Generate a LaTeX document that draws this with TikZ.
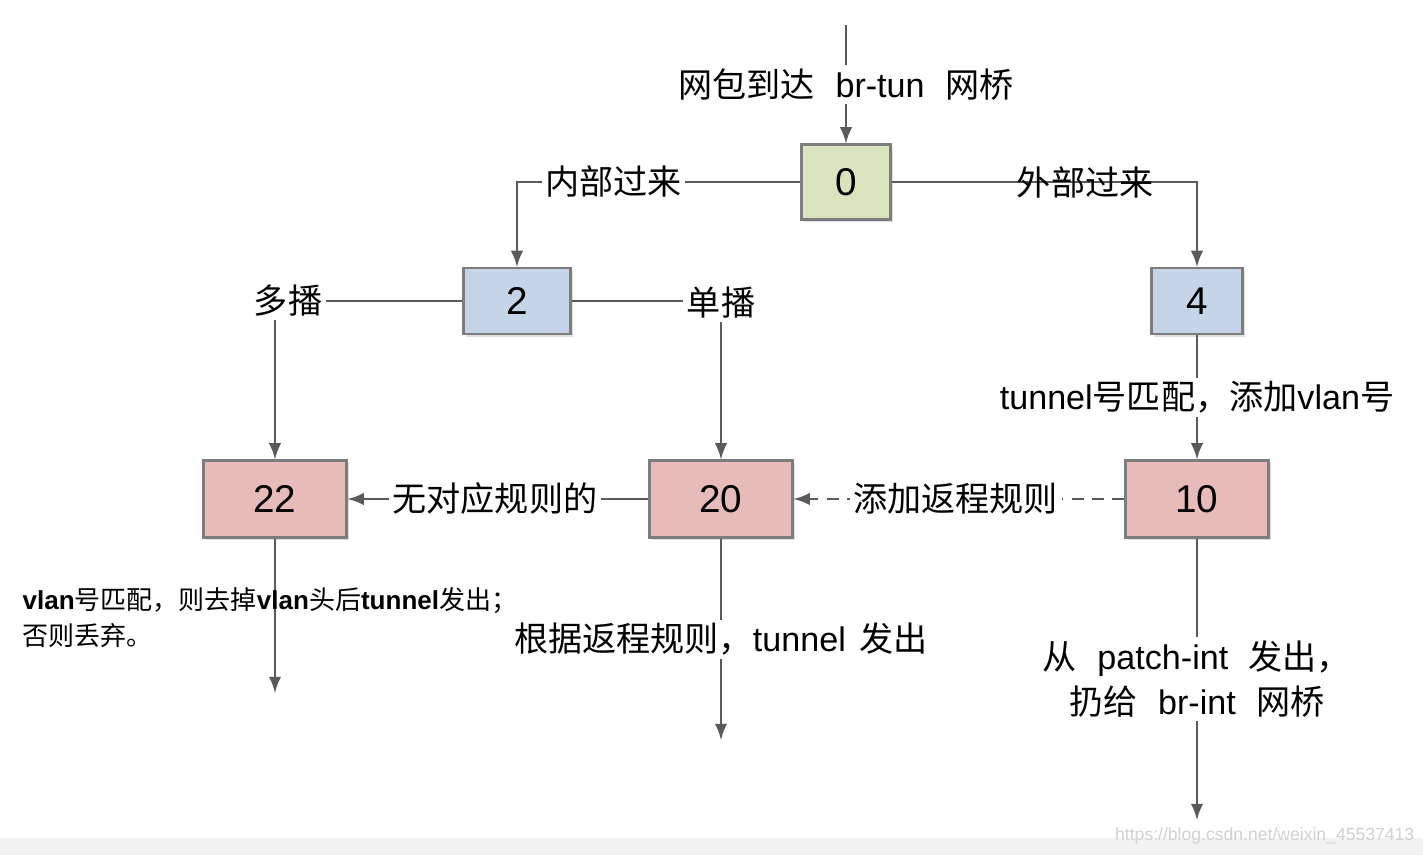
\documentclass[tikz,border=0pt]{standalone}
\usepackage{fontspec}
\setmainfont{Liberation Sans}
\newfontfamily\cjk{Noto Sans CJK SC}
\newcommand\zh[1]{{\cjk #1}}
\usetikzlibrary{shadows}

\begin{document}
\begin{tikzpicture}[x=0.01cm, y=-0.01cm,
    box/.style={draw=myborder, line width=0.6pt, inner sep=0pt,
        font=\fontsize{11}{13}\selectfont,
        drop shadow={opacity=0.25, shadow xshift=0.8pt, shadow yshift=-0.8pt}},
    redbox/.style={box, fill=myred, minimum width=1.43cm, minimum height=0.77cm},
    arr/.style={draw=myline, line width=0.6pt, -latex},
    lbl/.style={fill=white, inner sep=1pt, font=\fontsize{9.7}{12.8}\selectfont},
    lblnf/.style={inner sep=1pt, font=\fontsize{9.7}{12.8}\selectfont}]
    \definecolor{mygreen}{RGB}{216,228,190}
    \definecolor{myblue}{RGB}{198,212,231}
    \definecolor{myred}{RGB}{230,187,186}
    \definecolor{myborder}{RGB}{125,125,125}
    \definecolor{myline}{RGB}{90,90,90}

    \useasboundingbox (0,0) rectangle (1423,855);
    \fill[white] (0,0) rectangle (1423,855);
    \fill[black!5] (0,838) rectangle (1423,855);

    % tables
    \node[box, fill=mygreen, minimum width=0.89cm, minimum height=0.75cm] (n0) at (846,182) {0};
    \node[box, fill=myblue, minimum width=1.07cm, minimum height=0.66cm] (n2) at (517,301) {2};
    \node[box, fill=myblue, minimum width=0.91cm, minimum height=0.66cm] (n4) at (1197,301) {4};
    \node[redbox] (n22) at (275,499) {22};
    \node[redbox] (n20) at (721,499) {20};
    \node[redbox] (n10) at (1197,499) {10};

    \coordinate (in) at (846,25);
    \coordinate (out22) at (275,693);
    \coordinate (out20) at (721,740);
    \coordinate (out10) at (1197,820);

    % connectors
    \draw[arr] (in) -- node[lbl, pos=0.5] (lin) {\zh{网包到达}\hspace{0.6em}br-tun\hspace{0.6em}\zh{网桥}} (n0);
    \draw[arr] (n0.west) -- node[lbl, pos=0.66] (linner) {\zh{内部过来}} (n2.north |- n0.west) -- (n2.north);
    \draw[arr] (n0.east) -- node[lblnf, pos=0.634] (louter) {\zh{外部过来}} (n4.north |- n0.east) -- (n4.north);
    \draw[arr] (n2.west) -- (n22.north |- n2.west) node[lbl, xshift=0.13cm] (lmulti) {\zh{多播}} -- (n22.north);
    \draw[arr] (n2.east) -- (n20.north |- n2.east) node[lbl, yshift=-0.02cm] (luni) {\zh{单播}} -- (n20.north);
    \draw[arr] (n4) -- node[lbl, pos=0.5] (lvlan) {tunnel\zh{号匹配，添加}vlan\zh{号}} (n10);
    \draw[arr] (n20) -- node[lbl, pos=0.51] (lnone) {\zh{无对应规则的}} (n22);
    \draw[arr, dash pattern=on 3.4pt off 2.4pt] (n10) -- node[lbl, pos=0.51] (lback) {\zh{添加返程规则}} (n20);
    \draw[arr] (n22) -- (out22);
    \draw[arr] (n20) -- node[lbl, pos=0.5] (lret) {\zh{根据返程规则，}tunnel\hspace{0.4em}\zh{发出}} (out20);
    \draw[arr] (n10) -- node[lbl, pos=0.5, align=center] (lpatch)
        {\zh{从}\hspace{0.6em}patch-int\hspace{0.6em}\zh{发出，}\\\zh{扔给}\hspace{0.6em}br-int\hspace{0.6em}\zh{网桥}} (out10);

    \node[anchor=west, align=left, inner sep=0pt, font=\fontsize{7.4}{10.2}\selectfont] (ldrop) at (22,618)
        {\textbf{vlan}\zh{号匹配，则去掉}\textbf{vlan}\zh{头后}\textbf{tunnel}\zh{发出；}\\\zh{否则丢弃。}};

    \node[anchor=east, text=black!18, inner sep=0pt, font=\fontsize{5}{6}\selectfont] (mark) at (1415,836)
        {https://blog.csdn.net/weixin\_45537413};
\end{tikzpicture}
\end{document}
